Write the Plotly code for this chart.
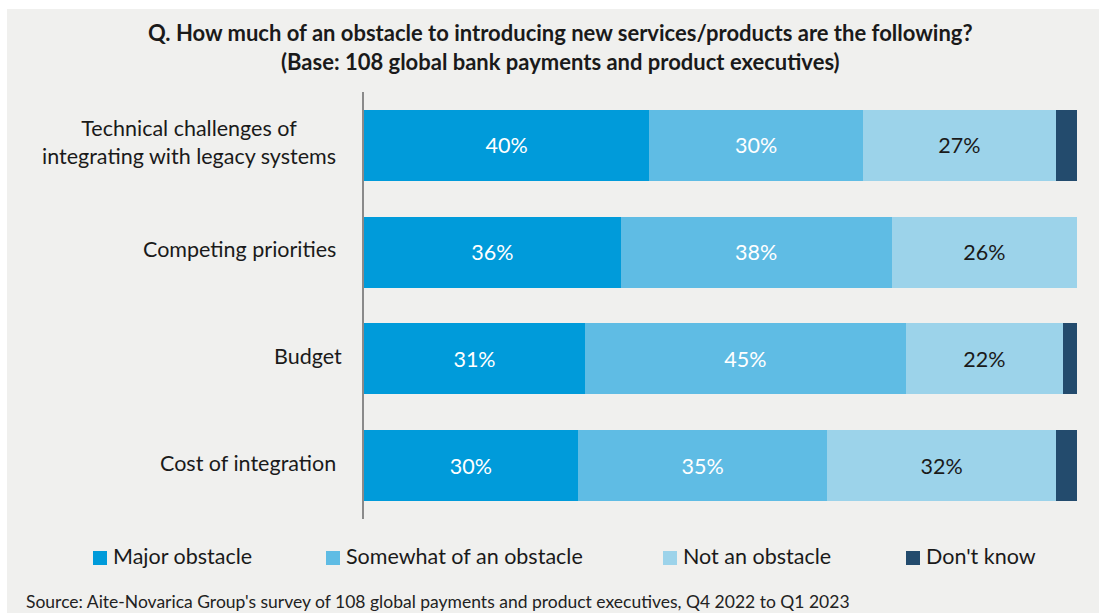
import plotly.graph_objects as go

# Survey data (percent of respondents)
categories = [
    "Technical challenges of<br>integrating with legacy systems",
    "Competing priorities",
    "Budget",
    "Cost of integration",
]
series_names = ["Major obstacle", "Somewhat of an obstacle", "Not an obstacle", "Don't know"]
major = [40, 36, 31, 30]
somewhat = [30, 38, 45, 35]
not_obstacle = [27, 26, 22, 32]
dont_know = [3, 0, 2, 3]

colors = ["#009bda", "#5fbce4", "#9cd3ea", "#234b6d"]
label_colors = ["white", "white", "#1a1a1a", None]

W, H = 1099, 613
L, R, T, B = 364, 1077, 92, 519  # plot area in pixels
FONT = "Lato, 'Open Sans', sans-serif"


def px_x(x):
    return (x - L) / (R - L)


def px_y(y):
    return (B - y) / (B - T)


fig = go.Figure()
for name, vals, col, lcol in zip(series_names, [major, somewhat, not_obstacle, dont_know], colors, label_colors):
    fig.add_trace(go.Bar(
        y=categories,
        x=vals,
        name=name,
        orientation="h",
        marker=dict(color=col, line=dict(width=0)),
        text=[f"{v}%" for v in vals] if lcol else None,
        texttemplate="%{text}" if lcol else None,
        textposition="inside" if lcol else "none",
        insidetextanchor="middle",
        textfont=dict(family=FONT, size=21.5, color=lcol or "white"),
        hoverinfo="x+name",
    ))

shapes = [
    # gray panel behind the chart
    dict(type="rect", xref="paper", yref="paper", layer="below",
         x0=px_x(7), x1=px_x(W + 5), y0=px_y(H + 5), y1=px_y(9),
         fillcolor="#f0f0ee", line=dict(width=0)),
]

annotations = [
    dict(xref="paper", yref="paper", x=px_x(560), y=px_y(47), xanchor="center", yanchor="middle",
         showarrow=False, align="center",
         text="<b>Q. How much of an obstacle to introducing new services/products are the following?</b><br>"
              "<b>(Base: 108 global bank payments and product executives)</b>",
         font=dict(family=FONT, size=22, color="#1a1a1a")),
    dict(xref="paper", yref="paper", x=px_x(24), y=px_y(601), xanchor="left", yanchor="middle",
         showarrow=False,
         text="Source: Aite-Novarica Group's survey of 108 global payments and product executives, Q4 2022 to Q1 2023",
         font=dict(family=FONT, size=17.5, color="#222222")),
]

# category labels, lines centered; Budget sits a little further right
label_shift = [0, 0, 6, 0]
for c, dx in zip(categories, label_shift):
    annotations.append(dict(xref="paper", yref="y", x=px_x(338), y=c, xanchor="right", yanchor="middle",
                            xshift=dx, yshift=3, showarrow=False, align="center", text=c,
                            font=dict(family=FONT, size=21.5, color="#1a1a1a")))

# legend row
legend_x = [93, 326, 663, 906]
for name, col, lx in zip(series_names, colors, legend_x):
    shapes.append(dict(type="rect", xref="paper", yref="paper",
                       x0=px_x(lx), x1=px_x(lx + 14), y0=px_y(565), y1=px_y(551),
                       fillcolor=col, line=dict(width=0)))
    annotations.append(dict(xref="paper", yref="paper", x=px_x(lx + 18), y=px_y(556),
                            xanchor="left", yanchor="middle", showarrow=False, text=name,
                            font=dict(family=FONT, size=21.5, color="#1a1a1a")))

fig.update_layout(
    width=W, height=H,
    margin=dict(l=L, r=W - R, t=T, b=H - B, pad=0),
    barmode="stack",
    bargap=0.336,
    paper_bgcolor="white",
    plot_bgcolor="rgba(0,0,0,0)",
    showlegend=False,
    shapes=shapes,
    annotations=annotations,
    xaxis=dict(range=[0, 100], visible=False, fixedrange=True),
    yaxis=dict(autorange="reversed", showticklabels=False, ticks="",
               showline=True, linecolor="#8a8a8a", linewidth=2, showgrid=False, zeroline=False),
    font=dict(family=FONT),
)

fig.write_html("out.html")
